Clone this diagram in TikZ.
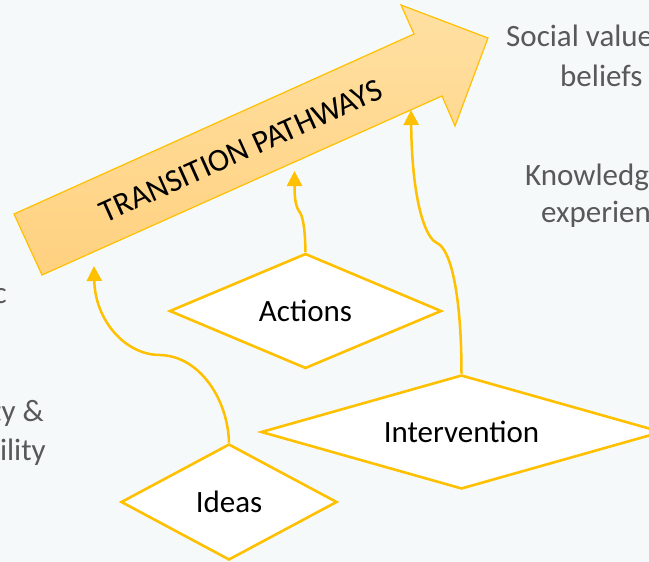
\documentclass[tikz,border=0pt]{standalone}
\usepackage{fontspec}
\setmainfont{Carlito}
\usetikzlibrary{shapes.geometric,arrows.meta}
\definecolor{bg}{RGB}{246,249,250}
\definecolor{gold}{RGB}{255,192,0}
\definecolor{txtgray}{RGB}{89,89,89}
\definecolor{arrowtop}{RGB}{255,224,162}
\definecolor{arrowbot}{RGB}{255,209,128}
\begin{document}
\begin{tikzpicture}[x=1pt,y=-1pt,
  box/.style={diamond, draw=gold, line width=2.6pt, fill=white, inner sep=0pt,
    font=\fontsize{31}{37}\selectfont},
  link/.style={draw=gold, line width=2.5pt, -{Triangle[length=15pt,width=15pt]}},
  side/.style={text=txtgray, font=\fontsize{31}{37}\selectfont, inner sep=0pt},
  bigarrow/.style={draw=gold, line width=1.2pt, top color=arrowtop, bottom color=arrowbot}]
\useasboundingbox (0,0) rectangle (649,562);
\fill[bg] (0,0) rectangle (649,562);
\clip (0,0) rectangle (649,562);

% big arrow
\draw[bigarrow] (14,214) -- (414,34) -- (401,5) -- (488,38) -- (455,126) -- (442,96) -- (42,275) -- cycle;
\node[rotate=24.2, font=\fontsize{32}{38}\selectfont, inner sep=0pt] (tp) at (241,151) {TRANSITION PATHWAYS};

\coordinate (t1) at (94,266);
\coordinate (t2) at (294.5,171);
\coordinate (t3) at (411,110);
\coordinate (k1) at (160,355);
\coordinate (k2) at (299,211);
\coordinate (k3) at (437,243);

% diamonds
\node[box, minimum width=272pt, minimum height=115pt, shape aspect=2.37] (act) at (305.5,311) {Actions};
\node[box, minimum width=401pt, minimum height=114pt, shape aspect=3.5] (int) at (461.5,432) {Intervention};
\node[box, minimum width=216pt, minimum height=116pt, shape aspect=1.86] (ide) at (229,502) {Ideas};

% connectors
\draw[link] (ide.north) .. controls (228,400) and (200,356) .. (k1) .. controls (125,355) and (95,320) .. (t1);
\draw[link] (act.north) .. controls (305,228) and (303,216) .. (k2) .. controls (295,205) and (294.5,195) .. (t2);
\draw[link] (int.north) .. controls (461.5,300) and (452,250) .. (k3) .. controls (425,238) and (412,200) .. (t3);

% side texts (cut by the picture's edges)
\node[side, anchor=base west] (sv) at (506,46.5) {Social value};
\node[side, anchor=base west] (bl) at (560,86) {beliefs};
\node[side, anchor=base west] (kn) at (525,185) {Knowledg};
\node[side, anchor=base west] (ex) at (541,222) {experien};
\node[side, anchor=base east] (ec) at (7,303) {c};
\node[side, anchor=base east] (ty) at (44,421.5) {ty \&};
\node[side, anchor=base east] (il) at (46,460) {ility};
\end{tikzpicture}
\end{document}
